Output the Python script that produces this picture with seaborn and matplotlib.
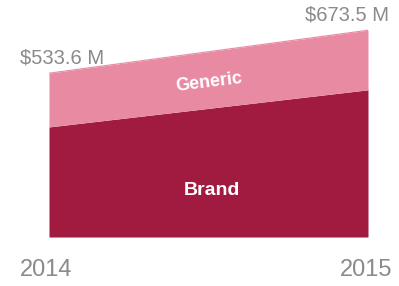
import matplotlib
matplotlib.use('Agg')
import matplotlib.pyplot as plt
import seaborn as sns
import pandas as pd

# Prescription spending, $M
years = [2014, 2015]
brand = [358.5, 479.5]
generic = [175.1, 194.0]
totals = ['$533.6 M', '$673.5 M']

brand_color = '#A01B3F'
generic_color = '#E98AA3'
gray = '#8A8A8A'

sns.set_theme(style='white')
plt.rcParams['font.family'] = ['Liberation Sans', 'DejaVu Sans']

df = pd.DataFrame({'year': years, 'brand': brand, 'generic': generic})
df['total'] = df['brand'] + df['generic']

fig = plt.figure(figsize=(3.99, 2.86), dpi=100)
ax = fig.add_axes([0.1228, 0.1713, 0.7995, 0.8287])

ax.fill_between(df['year'], 0, df['brand'], color=brand_color, lw=0)
ax.fill_between(df['year'], df['brand'], df['total'], color=generic_color, lw=0)
sns.lineplot(data=df, x='year', y='total', color=generic_color, lw=0.8, ax=ax)

ax.set_xlim(2014, 2015)
ax.set_ylim(0, 772)
ax.axis('off')

# total labels
ax.text(2014 - 0.09, df['total'][0] + 20, totals[0], color=gray, fontsize=14.5,
        ha='left', va='bottom')
ax.text(2015 + 0.065, df['total'][1] + 20, totals[1], color=gray, fontsize=14.5,
        ha='right', va='bottom')

# segment labels
ax.text(2014.5, 505, 'Generic', color='white', fontsize=13, fontweight='bold',
        ha='center', va='center', rotation=7)
ax.text(2014.51, 150, 'Brand', color='white', fontsize=14, fontweight='bold',
        ha='center', va='center')

# year labels
fig.text(20 / 399, 1 - 270 / 286, str(years[0]), color=gray, fontsize=17,
         ha='left', va='center')
fig.text(392 / 399, 1 - 270 / 286, str(years[1]), color=gray, fontsize=17,
         ha='right', va='center')

fig.savefig('out.png', dpi=100)
